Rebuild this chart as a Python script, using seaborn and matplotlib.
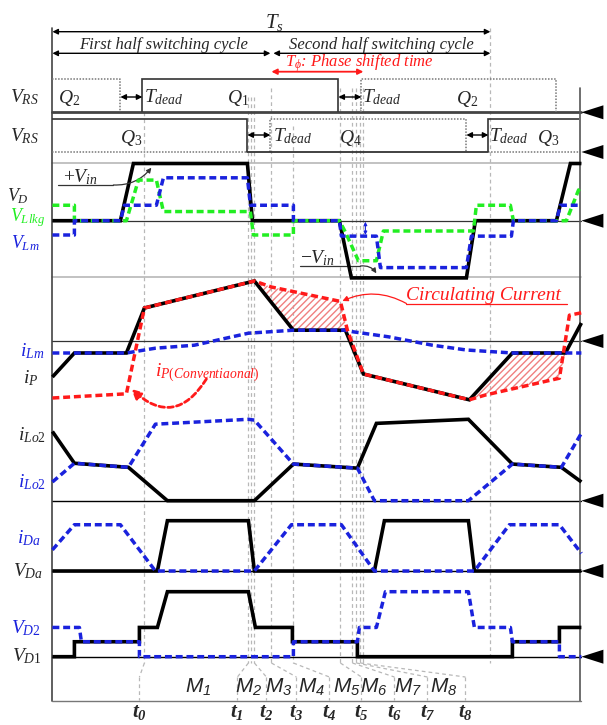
import numpy as np
import matplotlib
matplotlib.use("Agg")
import matplotlib.pyplot as plt
import seaborn as sns

# ---------------- waveform data (time in t-units, amplitude normalised) ----------------
# V_D (black) in units of V_in
vd_t = [0, 68, 81, 195, 200, 287, 299, 414, 423, 504, 518, 529]
vd_v = [0, 0, 1, 1, 0, 0, -1, -1, 0, 0, 1, 1]
# V_Lm (blue)
vlm_t = [0, 22, 22, 68, 72, 104, 111, 195, 198, 241, 241, 287, 289, 324, 328, 414, 419, 459, 461, 504, 508, 529]
vlm_v = [-0.25, -0.25, 0, 0, 0.27, 0.27, 0.75, 0.75, 0.27, 0.27, 0, 0, -0.27, -0.27, -0.82, -0.82, -0.27, -0.27, 0, 0, 0.27, 0.27]
# V_Llkg (green)
vlk_t = [0, 22, 22, 74, 86, 104, 111, 198, 201, 241, 241, 287, 293, 306, 324, 331, 421, 424, 458, 461, 514, 526, 529]
vlk_v = [0.27, 0.27, 0, 0, 0.71, 0.71, 0.16, 0.16, -0.25, -0.25, 0, 0, -0.2, -0.7, -0.7, -0.18, -0.18, 0.27, 0.27, 0, 0, 0.53, 0.6]

# i_P (black), i_P conventional (red), i_Lm (blue)
ip_t = [0, 22, 74, 92, 202, 241, 293, 311, 417, 460, 513, 529]
ip_v = [-0.6, -0.2, -0.2, 0.55, 1.0, 0.18, 0.18, -0.55, -0.98, -0.2, -0.2, 0.3]
ipc_t = [0, 74, 92, 202, 219, 288, 295, 311, 417, 433, 507, 517, 529]
ipc_v = [-0.95, -0.88, 0.55, 1.0, 0.9, 0.66, 0.18, -0.55, -0.98, -0.9, -0.62, 0.43, 0.47]
ilm_t = [0, 74, 103, 142, 196, 241, 293, 300, 336, 380, 414, 460, 529]
ilm_v = [-0.2, -0.2, -0.12, -0.07, 0.13, 0.18, 0.18, 0.155, 0.07, -0.07, -0.15, -0.2, -0.2]

# output inductor currents
ilo2_t = [0, 22, 76, 115, 202, 241, 305, 324, 416, 460, 509, 529]
ilo2_v = [0.85, 0.46, 0.41, 0, 0, 0.45, 0.40, 0.95, 1.0, 0.45, 0.41, 0.23]
ilo1_t = [0, 22, 76, 103, 196, 202, 241, 305, 322, 416, 460, 509, 529]
ilo1_v = [0.23, 0.46, 0.41, 0.94, 1.0, 0.99, 0.45, 0.40, 0, 0, 0.45, 0.41, 0.83]

# auxiliary diode voltage / current
vda_t = [0, 105, 115, 196, 202, 322, 332, 416, 422, 529]
vda_v = [0, 0, 1, 1, 0, 0, 1, 1, 0, 0]
ida_t = [0, 22, 68, 103, 202, 239, 289, 322, 422, 457, 507, 529]
ida_v = [0.42, 0.92, 0.92, 0, 0, 0.92, 0.92, 0, 0, 0.92, 0.92, 0.35]

# rectifier diode voltages
vd1_t = [0, 22, 22, 87, 87, 105, 115, 196, 203, 240, 240, 305, 305, 460, 460, 507, 507, 529]
vd1_v = [0, 0, 0.23, 0.23, 0.45, 0.45, 1, 1, 0.45, 0.45, 0.23, 0.23, 0, 0, 0.23, 0.23, 0.45, 0.45]
vd2_t = [0, 27, 29, 87, 87, 241, 241, 305, 307, 324, 333, 416, 422, 458, 460, 507, 507, 529]
vd2_v = [0.45, 0.45, 0.23, 0.23, 0, 0, 0.23, 0.23, 0.45, 0.45, 1, 1, 0.45, 0.45, 0.23, 0.23, 0, 0]

# gate signals
q1_t, q1_v = [90, 90, 286, 286], [0, 1, 1, 0]
q2a_t, q2a_v = [0, 68, 68], [1, 1, 0]
q2b_t, q2b_v = [309, 309, 504, 504], [0, 1, 1, 0]
q3a_t, q3a_v = [0, 195, 195], [1, 1, 0]
q3b_t, q3b_v = [436, 436, 527], [0, 1, 1]
q4_t, q4_v = [218, 218, 414, 414], [0, 1, 1, 0]

# timing marks
grid_t = [92, 196, 199, 202, 219, 241, 288, 300, 304, 308, 311, 438]
t_marks = [87, 185, 214, 244, 277, 309, 342, 375, 413]
t_names = [rf"$\mathbf{{t_{i}}}$" for i in range(9)]
m_pos = [146, 196, 226, 259, 294, 321, 356, 391]
m_names = [rf"$\mathsf{{M_{i}}}$" for i in range(1, 9)]
Ts_end = 438
half = 219
phase_end = 311

# ---------------- style ----------------
sns.set_theme(style="white")
plt.rcParams["font.family"] = ["Liberation Serif", "DejaVu Sans"]
plt.rcParams["mathtext.fontset"] = "custom"
plt.rcParams["mathtext.it"] = "Liberation Serif:italic"
plt.rcParams["mathtext.rm"] = "Liberation Serif"
plt.rcParams["mathtext.bf"] = "Liberation Serif:italic:bold"
plt.rcParams["mathtext.sf"] = "Liberation Sans:italic"

BLUE = "#1a22dd"
GREEN = "#22ee22"
RED = "#ff1a1a"
GRAY = "#b8b8b8"
DASH = (0, (2.0, 1.1))

fig = plt.figure(figsize=(6.07, 7.25), dpi=100)
ax = fig.add_axes([0, 0, 1, 1])
X0 = 52.4
ax.set_xlim(-X0, 607 - X0)
ax.set_ylim(725, 0)
ax.axis("off")

RIGHT = 529


def wave(t, v, base, scale, color, dashed=False, lw=2.5, z=3):
    y = base - scale * np.asarray(v, dtype=float)
    sns.lineplot(x=np.asarray(t, dtype=float), y=y, ax=ax, sort=False, estimator=None,
                 color=color, lw=lw, linestyle=DASH if dashed else "-", zorder=z,
                 solid_capstyle="butt", solid_joinstyle="miter")


def hline(y, color="black", lw=0.9, x0=0, x1=RIGHT, ls="-", z=1):
    ax.plot([x0, x1], [y, y], color=color, lw=lw, ls=ls, zorder=z)


def tri(y):
    ax.fill([RIGHT, RIGHT + 22, RIGHT + 22], [y, y - 7, y + 7], color="black", zorder=5, lw=0)


def dbl_arrow(x0, x1, y0, y1=None, color="black", lw=1.0, ms=8):
    y1 = y0 if y1 is None else y1
    ax.annotate("", xy=(x1, y1), xytext=(x0, y0),
                arrowprops=dict(arrowstyle="<|-|>", color=color, lw=lw,
                                mutation_scale=ms, shrinkA=0, shrinkB=0))


# ---------------- header ----------------
ax.plot([0, 0], [28, 700.7], color="#444444", lw=1.2, zorder=2)
ax.plot([RIGHT - 1, RIGHT - 1], [88, 700.7], color="#555555", lw=1.2, zorder=2)
ax.plot([0, RIGHT], [700.7, 700.7], color="#777777", lw=1.0, zorder=2)

dbl_arrow(0, Ts_end, 31.7)
dbl_arrow(0, half - 1, 53.3)
dbl_arrow(half + 2, Ts_end, 53.3)
dbl_arrow(half, phase_end, 71.7, color=RED, lw=1.3)
ax.text(222, 22, "$T_s$", fontsize=15, ha="center", va="center")
ax.text(111, 45, "First half switching cycle", fontsize=12, style="italic", ha="center", va="center")
ax.text(329, 45, "Second half switching cycle", fontsize=12, style="italic", ha="center", va="center")
ax.text(233, 63, r"$T_\phi$: Phase shifted time", fontsize=12, style="italic", color=RED,
        ha="left", va="center")

# vertical timing guides
grid_top = [112, 97, 97, 97, 88, 126, 88, 88, 88, 88, 88, 28]
for gt, top in zip(grid_t, grid_top):
    ax.plot([gt, gt], [top, 663], color=GRAY, lw=0.9, ls=(0, (3, 2.5)), zorder=0)
for gt, tm in zip([92, 196, 202, 219, 241, 288, 300, 304, 308], t_marks):
    ax.plot([gt, tm], [663, 677], color=GRAY, lw=0.9, ls=(0, (3, 2.5)), zorder=0)
    ax.plot([tm, tm], [677, 700], color=GRAY, lw=0.9, ls=(0, (3, 2.5)), zorder=0)

# ---------------- gate signals ----------------
G1, G2, GH = 112.3, 152.0, 33
gcol = "#333333"
wave(q1_t, q1_v, G1, GH, gcol, lw=1.2)
for tt, vv in [(q2a_t, q2a_v), (q2b_t, q2b_v)]:
    ax.plot(tt, G1 - GH * np.asarray(vv), color="#777777", lw=1.1, ls=(0, (1, 1)), zorder=2)
hline(G1, color="#444444", lw=2.0)
wave(q3a_t, q3a_v, G2, GH, gcol, lw=1.2)
wave(q3b_t, q3b_v, G2, GH, gcol, lw=1.2)
ax.plot(q4_t, G2 - GH * np.asarray(q4_v), color="#777777", lw=1.1, ls=(0, (1, 1)), zorder=2)
ax.plot([0, 195], [G2, G2], color="#777777", lw=1.1, ls=(0, (1, 1)))
ax.plot([195, 436], [G2, G2], color=gcol, lw=1.3)
ax.plot([436, RIGHT], [G2, G2], color="#777777", lw=1.1, ls=(0, (1, 1)))
tri(G1)
tri(G2)

dbl_arrow(68, 90, 97)
dbl_arrow(286, 309, 97)
dbl_arrow(195, 218, 135)
dbl_arrow(414, 436, 135)

fs = 14
ax.text(-28, 97, "$V_{RS}$", fontsize=fs, ha="center", va="center")
ax.text(-28, 136, "$V_{RS}$", fontsize=fs, ha="center", va="center")
ax.text(17, 98, "$Q_2$", fontsize=fs, ha="center", va="center")
ax.text(92, 97, r"$T_{dead}$", fontsize=fs, ha="left", va="center")
ax.text(186, 98, "$Q_1$", fontsize=fs, ha="center", va="center")
ax.text(310, 97, r"$T_{dead}$", fontsize=fs, ha="left", va="center")
ax.text(415, 99, "$Q_2$", fontsize=fs, ha="center", va="center")
ax.text(79, 138, "$Q_3$", fontsize=fs, ha="center", va="center")
ax.text(221, 136, r"$T_{dead}$", fontsize=fs, ha="left", va="center")
ax.text(298, 138, "$Q_4$", fontsize=fs, ha="center", va="center")
ax.text(437, 136, r"$T_{dead}$", fontsize=fs, ha="left", va="center")
ax.text(496, 138, "$Q_3$", fontsize=fs, ha="center", va="center")

# ---------------- V_D panel ----------------
B1, S1 = 220.7, 57.2
hline(163.3, color=GRAY, lw=1.2)
hline(277.3, color=GRAY, lw=1.2)
hline(B1, color="#333333", lw=0.9)
wave(vd_t, vd_v, B1, S1, "black", lw=2.6, z=3)
wave(vlk_t, vlk_v, B1, S1, GREEN, dashed=True, lw=2.5, z=4)
wave(vlm_t, vlm_v, B1, S1, BLUE, dashed=True, lw=2.5, z=5)
tri(B1)
ax.text(-34, 196, "$V_D$", fontsize=13, ha="center", va="center")
ax.text(-25, 218, "$V_{Llkg}$", fontsize=13, ha="center", va="center", color=GREEN)
ax.text(-27, 243, "$V_{Lm}$", fontsize=13, ha="center", va="center", color=BLUE)
ax.text(11, 177, "$+V_{in}$", fontsize=fs, ha="left", va="center")
ax.plot([6, 61], [185, 185], color="#333333", lw=0.9)
ax.annotate("", xy=(99, 167.7), xytext=(61, 185),
            arrowprops=dict(arrowstyle="-|>", color="#333333", lw=0.9, mutation_scale=7,
                            connectionstyle="arc3,rad=0.25", shrinkA=0, shrinkB=0))
ax.text(248, 258, "$-V_{in}$", fontsize=fs, ha="left", va="center")
ax.plot([248, 308], [266, 266], color="#333333", lw=0.9)
ax.annotate("", xy=(324, 273.3), xytext=(308, 266),
            arrowprops=dict(arrowstyle="-|>", color="#333333", lw=0.9, mutation_scale=7,
                            connectionstyle="arc3,rad=-0.3", shrinkA=0, shrinkB=0))
dbl_arrow(313, 313, 221.7, 235, color=BLUE, lw=0.8, ms=5)

# ---------------- i_P panel ----------------
B2, S2 = 341.0, 60.0
hline(B2, color="#333333", lw=0.9)
ip_t_a, ip_v_a = np.asarray(ip_t, float), np.asarray(ip_v, float)
ipc_t_a, ipc_v_a = np.asarray(ipc_t, float), np.asarray(ipc_v, float)
# circulating-current areas between the two primary currents
top_x = np.r_[ip_t_a[4:7], ipc_t_a[6:2:-1]]
top_y = np.r_[ip_v_a[4:7], ipc_v_a[6:2:-1]]
bot_x = np.r_[ip_t_a[8:11], ipc_t_a[10:7:-1]]
bot_y = np.r_[ip_v_a[8:11], ipc_v_a[10:7:-1]]
for px, py in [(top_x, top_y), (bot_x, bot_y)]:
    ax.fill(px, B2 - S2 * py, facecolor="none", edgecolor="#f08080", hatch="/////", lw=0, zorder=1)
wave(ip_t, ip_v, B2, S2, "black", lw=2.6, z=3)
wave(ilm_t, ilm_v, B2, S2, BLUE, dashed=True, lw=2.5, z=4)
wave(ipc_t, ipc_v, B2, S2, RED, dashed=True, lw=2.5, z=5)
tri(B2)
ax.text(-20, 351, "$i_{Lm}$", fontsize=fs, ha="center", va="center", color=BLUE)
ax.text(-22, 378, "$i_P$", fontsize=fs, ha="center", va="center")
ax.text(103, 373, "$i_{P(Conventiaonal)}$", fontsize=fs, ha="left", va="center", color=RED)
ax.annotate("", xy=(79, 389), xytext=(154, 379),
            arrowprops=dict(arrowstyle="-|>", color=RED, lw=2.0, ls=(0, (2, 1.2)), mutation_scale=14,
                            connectionstyle="arc3,rad=-0.6", shrinkA=0, shrinkB=0))
ax.text(354, 295, "Circulating Current", fontsize=14, style="italic", color=RED,
        ha="left", va="center")
ax.plot([354, 515], [303.5, 303.5], color=RED, lw=0.9)
ax.annotate("", xy=(290, 301), xytext=(354, 303.5),
            arrowprops=dict(arrowstyle="-|>", color=RED, lw=0.9, mutation_scale=8,
                            connectionstyle="arc3,rad=0.25", shrinkA=0, shrinkB=0))

# ---------------- output inductor currents ----------------
B3, S3 = 500.7, 81.4
hline(B3, color="black", lw=1.0)
wave(ilo2_t, ilo2_v, B3, S3, "black", lw=2.6, z=3)
wave(ilo1_t, ilo1_v, B3, S3, BLUE, dashed=True, lw=2.5, z=4)
tri(B3)
ax.text(-20, 435, "$i_{Lo2}$", fontsize=fs, ha="center", va="center")
ax.text(-20, 482, "$i_{Lo2}$", fontsize=fs, ha="center", va="center", color=BLUE)

# ---------------- auxiliary diode ----------------
B4, S4 = 571.0, 50.3
hline(B4, color="black", lw=1.0)
wave(vda_t, vda_v, B4, S4, "black", lw=2.6, z=3)
wave(ida_t, ida_v, B4, S4, BLUE, dashed=True, lw=2.5, z=4)
tri(B4)
ax.text(-24, 538, "$i_{Da}$", fontsize=fs, ha="center", va="center", color=BLUE)
ax.text(-24, 571, "$V_{Da}$", fontsize=fs, ha="center", va="center")

# ---------------- rectifier diodes ----------------
B5, S5 = 656.7, 65.0
hline(B5, color="black", lw=1.0)
wave(vd1_t, vd1_v, B5, S5, "black", lw=2.6, z=3)
wave(vd2_t, vd2_v, B5, S5, BLUE, dashed=True, lw=2.5, z=4)
tri(B5)
ax.text(-26, 628, "$V_{D2}$", fontsize=fs, ha="center", va="center", color=BLUE)
ax.text(-26, 656, "$V_{D1}$", fontsize=fs, ha="center", va="center")

# interval and instant labels
for xm, name in zip(m_pos, m_names):
    ax.text(xm, 687, name, fontsize=15, ha="center", va="center")
for xt, name in zip(t_marks, t_names):
    ax.text(xt, 712, name, fontsize=15, ha="center", va="center")

fig.savefig("out.png", dpi=100)
